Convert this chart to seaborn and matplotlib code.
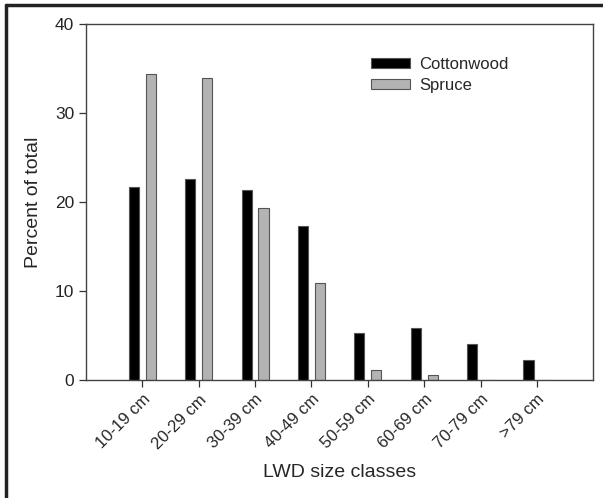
import matplotlib
matplotlib.use("Agg")
import matplotlib.pyplot as plt
import pandas as pd
import seaborn as sns

# values
size_classes = ["10-19 cm", "20-29 cm", "30-39 cm", "40-49 cm",
                "50-59 cm", "60-69 cm", "70-79 cm", ">79 cm"]
cottonwood = [21.7, 22.6, 21.3, 17.3, 5.3, 5.8, 4.0, 2.2]
spruce = [34.4, 33.9, 19.3, 10.9, 1.1, 0.55, 0.0, 0.0]
y_ticks = [0, 10, 20, 30, 40]

df = pd.DataFrame({
    "size_class": size_classes * 2,
    "percent": cottonwood + spruce,
    "species": ["Cottonwood"] * len(size_classes) + ["Spruce"] * len(size_classes),
})

sns.set_style("ticks")
plt.rcParams["font.family"] = ["Liberation Sans", "DejaVu Sans"]

fig = plt.figure(figsize=(6.03, 4.98), dpi=100)
ax = fig.add_axes([0.1426, 0.2369, 0.8404, 0.7149])

sns.barplot(
    data=df, x="size_class", y="percent", hue="species",
    order=size_classes, hue_order=["Cottonwood", "Spruce"],
    palette={"Cottonwood": "black", "Spruce": "#b3b3b3"},
    width=0.6, gap=0.4, edgecolor="#555555", linewidth=0.8,
    errorbar=None, ax=ax,
)

ax.set_xlim(-1.0, 7.99)
ax.set_ylim(0, 40)
ax.set_yticks(y_ticks)
ax.tick_params(axis="y", labelsize=12.5, length=5, width=0.9, color="#333333")
ax.tick_params(axis="x", labelsize=12, length=5, width=0.9, color="#333333")
plt.setp(ax.get_xticklabels(), rotation=45, ha="right", rotation_mode="anchor")

for side in ["left", "right", "top", "bottom"]:
    ax.spines[side].set_visible(True)
    ax.spines[side].set_color("#444444")
    ax.spines[side].set_linewidth(1.0)

ax.set_xlabel("LWD size classes", fontsize=14, labelpad=9)
ax.set_ylabel("Percent of total", fontsize=14, labelpad=9)

handles, labels = ax.get_legend_handles_labels()
ax.legend(handles, labels, frameon=False, fontsize=12,
          loc="upper left", bbox_to_anchor=(0.54, 0.94),
          handlelength=2.3, handleheight=0.6, labelspacing=0.35,
          handletextpad=0.55, borderpad=0.2)

# dark frame around the figure (left and top visible)
fig.add_artist(plt.Line2D([0.0099, 0.0099], [0, 0.99], color="#222222",
                          linewidth=2.5, transform=fig.transFigure))
fig.add_artist(plt.Line2D([0.0099, 1.0], [0.99, 0.99], color="#222222",
                          linewidth=2.5, transform=fig.transFigure))

fig.savefig("out.png", dpi=100)
